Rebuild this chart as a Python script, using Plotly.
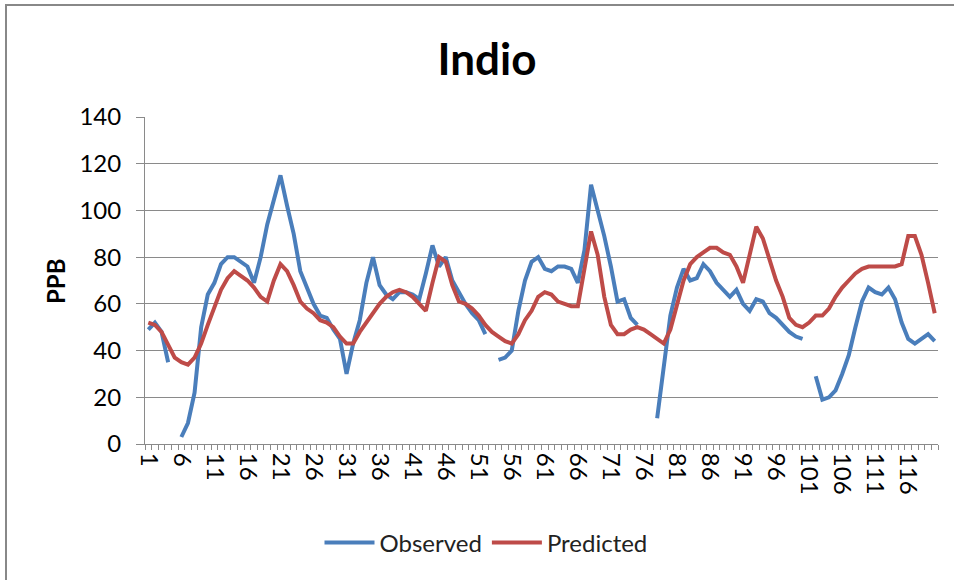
import plotly.graph_objects as go

categories = list(range(1, 121))

observed = [
    49, 52, 48, 35, None, 3, 9, 22, 50, 64,
    69, 77, 80, 80, 78, 76, 69, 80, 94, 104,
    115, 102, 90, 74, 67, 60, 55, 54, 49, 45,
    30, 43, 53, 69, 80, 68, 64, 62, 65, 65,
    64, 62, 73, 85, 76, 80, 70, 65, 60, 56,
    53, 47, None, 36, 37, 40, 57, 70, 78, 80,
    75, 74, 76, 76, 75, 69, 83, 111, 100, 89,
    76, 61, 62, 54, 51, None, None, 11, 32, 55,
    67, 75, 70, 71, 77, 74, 69, 66, 63, 66,
    60, 57, 62, 61, 56, 54, 51, 48, 46, 45,
    None, 29, 19, 20, 23, 30, 38, 50, 61, 67,
    65, 64, 67, 62, 52, 45, 43, 45, 47, 44,
]

predicted = [
    52, 51, 48, 42, 37, 35, 34, 37, 43, 51,
    59, 66, 71, 74, 72, 70, 67, 63, 61, 70,
    77, 74, 68, 61, 58, 56, 53, 52, 50, 46,
    43, 43, 48, 52, 56, 60, 63, 65, 66, 65,
    63, 60, 57, 69, 80, 78, 68, 61, 60, 58,
    55, 51, 48, 46, 44, 43, 47, 53, 57, 63,
    65, 64, 61, 60, 59, 59, 75, 91, 81, 63,
    51, 47, 47, 49, 50, 49, 47, 45, 43, 49,
    60, 70, 77, 80, 82, 84, 84, 82, 81, 76,
    69, 81, 93, 88, 79, 70, 63, 54, 51, 50,
    52, 55, 55, 58, 63, 67, 70, 73, 75, 76,
    76, 76, 76, 76, 77, 89, 89, 81, 69, 56,
]

tick_vals = categories[::5]
tick_text = [str(v) for v in tick_vals]
y_ticks = [0, 20, 40, 60, 80, 100, 120, 140]

FONT = "Lato, 'Open Sans', sans-serif"
GRID = "#8a8a8a"

fig = go.Figure()
fig.add_trace(go.Scatter(
    x=categories, y=observed, mode="lines", name="Observed",
    line=dict(color="#4A7EBB", width=4), connectgaps=False,
))
fig.add_trace(go.Scatter(
    x=categories, y=predicted, mode="lines", name="Predicted",
    line=dict(color="#BE4B48", width=4),
))

fig.update_layout(
    width=954, height=580,
    margin=dict(l=145, r=16, t=117, b=136),
    paper_bgcolor="white", plot_bgcolor="white",
    font=dict(family=FONT, color="#000000"),
    title=dict(text="<b>Indio</b>", x=487 / 954, xref="container", xanchor="center",
               y=1 - 60 / 580, yref="container", yanchor="middle",
               font=dict(size=44, family=FONT, color="#000000")),
    showlegend=True,
    legend=dict(orientation="h", x=(486 - 145) / 793, xanchor="center",
                y=(444 - 543) / 327, yanchor="middle",
                font=dict(size=24, family=FONT, color="#222222"),
                itemwidth=50, tracegroupgap=0),
    xaxis=dict(
        range=[0.5, 120.5], tickmode="array", tickvals=tick_vals, ticktext=tick_text,
        tickangle=90, ticks="outside", ticklen=3, tickcolor="rgba(0,0,0,0)",
        tickfont=dict(size=24, family=FONT, color="#000000"),
        showgrid=False, zeroline=False, showline=True, linecolor=GRID, linewidth=1,
        automargin=False,
        minor=dict(tickmode="array", tickvals=[k + 0.5 for k in range(121)],
                   ticks="outside", ticklen=5, tickcolor=GRID, showgrid=False),
    ),
    yaxis=dict(
        range=[0, 140], tickmode="array", tickvals=y_ticks,
        ticks="outside", ticklen=8, tickcolor=GRID, ticklabelstandoff=10,
        tickfont=dict(size=24, family=FONT, color="#000000"),
        showgrid=True, gridcolor=GRID, gridwidth=1, zeroline=False,
        showline=True, linecolor=GRID, linewidth=1, automargin=False,
    ),
)

fig.add_annotation(text="<b>PPB</b>", xref="paper", yref="paper",
                   x=(55 - 145) / 793, y=(444 - 281) / 327, xanchor="center", yanchor="middle",
                   textangle=-90, showarrow=False,
                   font=dict(size=24, family=FONT, color="#000000"))

fig.add_shape(type="rect", xref="paper", yref="paper", layer="below",
              x0=(6 - 145) / 793, x1=(1100 - 145) / 793,
              y0=(444 - 700) / 327, y1=(444 - 5) / 327,
              line=dict(color="#888888", width=2), fillcolor="rgba(0,0,0,0)")

fig.write_html("out.html", config={"displayModeBar": False},
               post_script="document.body.style.margin='0';")
